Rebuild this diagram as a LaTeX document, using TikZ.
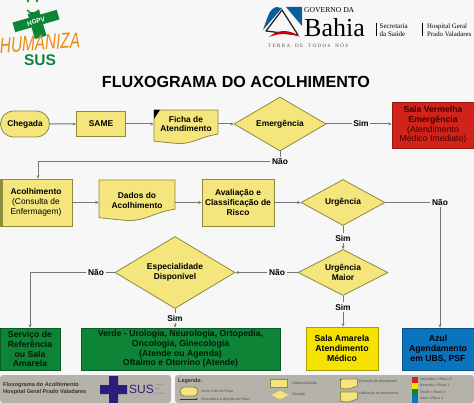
\documentclass[tikz,border=0pt]{standalone}
\usepackage{fontspec}
\setmainfont{Liberation Sans}
\newfontfamily\serifbahia{Liberation Serif}
\usepackage{tikz}
\usetikzlibrary{arrows.meta,shapes.geometric,shapes.misc}
\definecolor{fundo}{HTML}{F7F7F7}
\definecolor{amarelo}{HTML}{F4E67C}
\definecolor{borda}{HTML}{8E8A3E}
\definecolor{linha}{HTML}{777777}
\definecolor{vermelho}{HTML}{D2231A}
\definecolor{verde}{HTML}{0E8437}
\definecolor{sol}{HTML}{F6E200}
\definecolor{azul}{HTML}{0B74BE}
\definecolor{cinza}{HTML}{B5B2AA}
\definecolor{marinho}{HTML}{2A1E78}
\definecolor{laranja}{HTML}{E88A14}
\tikzset{
    caixa/.style={rectangle, draw=borda, line width=0.8pt, fill=amarelo, align=center,
        font=\fontsize{8.4}{9.8}\selectfont, inner sep=0pt},
    cor/.style={rectangle, draw=#1!70!black, line width=0.6pt, fill=#1, align=center,
        font=\bfseries\fontsize{8.7}{9.8}\selectfont, inner sep=0pt, text=black},
    decisao/.style={diamond, draw=borda, line width=0.8pt, fill=amarelo, align=center,
        font=\bfseries\fontsize{8.4}{9.8}\selectfont, inner sep=0pt, aspect=1.7},
    inicio/.style={rounded rectangle, draw=borda, line width=0.8pt, fill=amarelo,
        font=\bfseries\fontsize{8.4}{9.8}\selectfont, inner sep=0pt},
    rotulo/.style={font=\bfseries\fontsize{8.4}{9.8}\selectfont, inner sep=1.5pt},
    fluxo/.style={draw=linha, line width=1pt},
    doclinha/.style={draw=borda, line width=0.8pt, fill=amarelo},
    leg/.style={anchor=west, font=\fontsize{3.6}{4}\selectfont, text=black!70, inner sep=0pt},
}
% documento: nome, centro x, centro y, largura, altura, desvio do texto, texto
\newcommand{\docnode}[7]{
    \draw[doclinha, shift={(#2,#3)}]
        (-#4/2,-#5/2) -- (#4/2,-#5/2) -- (#4/2,0.22*#5)
        .. controls (0.22*#4,0.3*#5) and (0.1*#4,0.52*#5) .. (-0.12*#4,0.5*#5)
        .. controls (-0.25*#4,0.48*#5) .. (-#4/2,0.43*#5) -- cycle;
    \node[inner sep=0pt, minimum width=#4, minimum height=#5] (#1) at (#2,#3) {};
    \node[inner sep=0pt, align=center, font=\bfseries\fontsize{8.4}{9.8}\selectfont]
        (#1texto) at ([yshift=#6pt]#1.center) {#7};
}
\begin{document}
\begin{tikzpicture}[>={Stealth[length=3.5pt,width=3pt]}, x=1pt, y=-1pt]

    \useasboundingbox (0,0) rectangle (474,403);
    \fill[fundo] (0,0) rectangle (474,403);

    % Logo Humaniza
    \fill[verde, rotate around={16:(36,21)}] (13,16) rectangle (59,26);
    \fill[verde, rotate around={16:(36,21)}] (30,12) rectangle (42,38);
    \node[text=white, font=\bfseries\fontsize{6.5}{7}\selectfont, rotate=16] (hgpv) at (36,21.5) {HGPV};
    \draw[verde, line width=1.3pt] (27,10) .. controls (30,14) and (35,14) .. (39,10);
    \fill[verde] (28,1) circle (1.3) (37,1) circle (1.3);
    \node[text=laranja, font=\itshape\fontsize{16}{16}\selectfont, transform shape, yscale=1.35, xscale=0.96, rotate=3] (humaniza) at (40,43) {HUMANIZA};
    \node[text=verde, font=\bfseries\fontsize{15.5}{16}\selectfont] (sus) at (40,60.5) {SUS};

    % Logo Bahia
    \fill[azul!80!black] (263,30) -- (282,8) -- (276,7) .. controls (270,10) .. (263,30);
    \fill[azul!80!black] (286,7) -- (302,7) -- (302,26) -- cycle;
    \draw[black!85, line width=1.3pt, line join=round] (266,31) -- (282,10) -- (298,35) -- cycle;
    \fill[red!80!black] (269,37) .. controls (278,29) and (290,29) .. (300,37)
        .. controls (290,33) and (279,33) .. cycle;
    \node[anchor=west, font=\serifbahia\fontsize{7.6}{8}\selectfont, inner sep=0pt] (governo) at (304,10) {GOVERNO DA};
    \node[anchor=west, font=\serifbahia\fontsize{26}{26}\selectfont, inner sep=0pt] (bahia) at (304,28) {Bahia};
    \node[anchor=west, font=\serifbahia\fontsize{5}{5}\selectfont, text=black!70, inner sep=0pt] (terra) at (268,45) {T\;E\;R\;R\;A\quad D\;E\quad T\;O\;D\;O\;S\quad N\;Ó\;S};
    \draw[black, line width=0.7pt] (376.5,23) -- (376.5,36) (422,23) -- (422,36);
    \node[anchor=west, align=left, font=\serifbahia\fontsize{7}{8.4}\selectfont, inner sep=0pt] (secretaria) at (379.5,30) {Secretaria\\da Saúde};
    \node[anchor=west, align=left, font=\serifbahia\fontsize{6.8}{8.4}\selectfont, inner sep=0pt] (hospital) at (427,30) {Hospital Geral\\Prado Valadares};

    % Titulo
    \node[font=\bfseries\fontsize{16.1}{18}\selectfont] (titulo) at (236,82) {FLUXOGRAMA DO ACOLHIMENTO};

    % Primeira linha
    \node[inicio, minimum width=49, minimum height=26] (chegada) at (25,124) {Chegada};
    \node[caixa, minimum width=49, minimum height=25, font=\bfseries\fontsize{8.4}{9.8}\selectfont] (same) at (101,124) {SAME};
    \docnode{ficha}{186}{126.75}{64}{33.5}{2.75}{Ficha de\\Atendimento}
    \fill[black] (154,110) -- (160,110) -- (154,119) -- cycle;
    \node[decisao, minimum width=92, minimum height=54] (emergencia) at (280,124) {Emergência};
    \node[cor=vermelho, minimum width=82, minimum height=46, text=black!75!red] (vermelha) at (433,125) {Sala Vermelha\\Emergência\\\mdseries(Atendimento\\\mdseries Médico Imediato)};
    \node[rotulo] (sim1) at (361,124) {Sim};
    \node[rotulo] (nao1) at (280,162) {Não};

    % Segunda linha
    \node[caixa, minimum width=72, minimum height=47] (acolhimento) at (36,202.5) {\textbf{Acolhimento}\\(Consulta de\\Enfermagem)};
    \fill[borda] (0,179) rectangle (2.5,226);
    \docnode{dados}{137}{200.25}{76}{40.5}{0}{Dados do\\Acolhimento}
    \node[caixa, minimum width=72, minimum height=47, font=\bfseries\fontsize{8.4}{9.8}\selectfont] (avaliacao) at (238,202.5) {Avaliação e\\Classificação de\\Risco};
    \node[decisao, minimum width=84, minimum height=46] (urgencia) at (343,202.5) {Urgência};
    \node[rotulo] (nao2) at (440,202.5) {Não};
    \node[rotulo] (sim2) at (343,238) {Sim};

    % Terceira linha
    \node[decisao, minimum width=90, minimum height=46] (maior) at (343,272.5) {Urgência\\Maior};
    \node[decisao, minimum width=120, minimum height=72] (especialidade) at (175,272.5) {Especialidade\\Disponível};
    \node[rotulo] (nao3) at (277,272.5) {Não};
    \node[rotulo] (nao4) at (96,272.5) {Não};
    \node[rotulo] (sim3) at (175,318) {Sim};
    \node[rotulo] (sim4) at (343,307) {Sim};

    % Destinos
    \node[cor=verde, minimum width=60, minimum height=42, text=black!80!verde] (servico) at (30,349) {Serviço de\\Referência\\ou Sala\\Amarela};
    \node[cor=verde, minimum width=199, minimum height=42, text=black!80!verde] (verdebox) at (180.5,349) {Verde - Urologia, Neurologia, Ortopedia,\\Oncologia, Ginecologia\\(Atende ou Agenda)\\Oftalmo e Otorrino (Atende)};
    \node[cor=sol, minimum width=72, minimum height=43] (amarela) at (342,348.5) {Sala Amarela\\Atendimento\\Médico};
    \node[cor=azul, minimum width=72, minimum height=42] (azulbox) at (438,349) {Azul\\Agendamento\\em UBS, PSF};

    % Conectores
    \coordinate (canto1) at (38,162);
    \coordinate (canto2) at (30,272.5);
    \draw[->, fluxo] (chegada) -- (same);
    \draw[->, fluxo] (same) -- (ficha.west |- same);
    \draw[->, fluxo] (ficha.east |- emergencia) -- (emergencia);
    \draw[fluxo] (emergencia) -- (sim1);
    \draw[->, fluxo] (sim1) -- (vermelha.west |- sim1);
    \draw[fluxo] (emergencia) -- (nao1);
    \draw[->, fluxo] (nao1) -- (canto1) -- (acolhimento.north -| canto1);
    \draw[->, fluxo] (acolhimento) -- (dados.west |- acolhimento);
    \draw[->, fluxo] (dados.east |- avaliacao) -- (avaliacao);
    \draw[->, fluxo] (avaliacao) -- (urgencia);
    \draw[fluxo] (urgencia) -- (nao2);
    \draw[->, fluxo] (nao2) -- (azulbox.north -| nao2);
    \draw[fluxo] (urgencia) -- (sim2);
    \draw[->, fluxo] (sim2) -- (maior);
    \draw[fluxo] (maior) -- (nao3);
    \draw[->, fluxo] (nao3) -- (especialidade);
    \draw[fluxo] (maior) -- (sim4);
    \draw[->, fluxo] (sim4) -- (amarela.north -| sim4);
    \draw[fluxo] (especialidade) -- (sim3);
    \draw[->, fluxo] (sim3) -- (verdebox.north -| sim3);
    \draw[fluxo] (especialidade) -- (nao4);
    \draw[->, fluxo] (nao4) -- (canto2) -- (servico);

    % Rodape
    \fill[cinza, rounded corners=3pt] (0,375) rectangle (171,403);
    \fill[cinza, rounded corners=3pt] (175,375) rectangle (474,403);
    \node[anchor=west, align=left, font=\bfseries\fontsize{5.6}{7}\selectfont, inner sep=0pt, text=black!80] (rodape) at (3,389) {Fluxograma do Acolhimento\\Hospital Geral Prado Valadares};
    \fill[marinho] (109,376) rectangle (118,403) (100,385) rectangle (127,394);
    \node[anchor=west, text=marinho, font=\fontsize{12}{12}\selectfont, inner sep=0pt] (suslogo) at (129,389) {SUS};
    \node[anchor=west, align=left, text=black!55, font=\fontsize{2}{4.4}\selectfont, inner sep=0pt] (sistema) at (155,389) {Sistema\\Único\\de Saúde};

    % Legenda
    \node[anchor=west, font=\bfseries\fontsize{5.4}{6}\selectfont, inner sep=0pt, text=black!80] (legenda) at (178,381) {Legenda:};
    \node[inicio, minimum width=18, minimum height=9] (leginicio) at (189,391.5) {};
    \coordinate (legseta1) at (180,399);
    \coordinate (legseta2) at (198,399);
    \draw[->, black!80, line width=0.5pt, >={Stealth[length=2pt]}] (legseta1) -- (legseta2);
    \node[leg] (t1) at (201,391) {Início e fim do Fluxo};
    \node[leg] (t2) at (201,399.5) {Seta indica a direção do Fluxo};
    \node[caixa, minimum width=17, minimum height=8] (legop) at (279,383.5) {};
    \node[decisao, minimum width=17, minimum height=9, draw=none] (legdec) at (280,395) {};
    \node[leg] (t3) at (292,384) {Operação/Ação};
    \node[leg] (t4) at (292,394.5) {Decisão};
    \docnode{legdoc1}{349}{384}{17}{10}{0}{}
    \fill[black] (340.5,379) -- (341.5,379) -- (340.5,381) -- cycle;
    \docnode{legdoc2}{349}{397}{17}{10}{0}{}
    \node[leg] (t5) at (359,381) {Emissão de documento};
    \node[leg] (t6) at (359,394) {Utilização do documento};
    \fill[vermelho] (412,377) rectangle (418,383);
    \fill[sol] (412,383) rectangle (418,389);
    \fill[verde] (412,389) rectangle (418,396);
    \fill[azul] (412,396) rectangle (418,403);
    \node[leg] (t7) at (420,379.5) {Vermelho = Risco 0};
    \node[leg] (t8) at (420,385.5) {Amarelo = Risco 1};
    \node[leg] (t9) at (420,392) {Verde = Risco 2};
    \node[leg] (t10) at (420,398.5) {Azul = Risco 3};

\end{tikzpicture}
\end{document}
